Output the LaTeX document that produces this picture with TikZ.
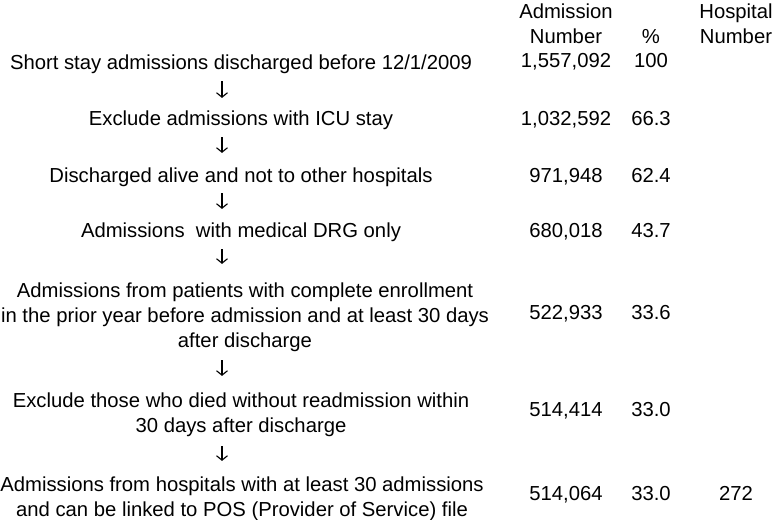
\documentclass[tikz,border=0pt]{standalone}
\usepackage{fontspec}
\setmainfont{Liberation Sans}
\usetikzlibrary{arrows.meta}
\newcommand\flowfont{\fontsize{20.27}{25}\selectfont}
\tikzset{
  flow/.style={-{Straight Barb[length=4.5pt,width=11pt]},line width=1.1pt,draw=black},
  stepbox/.style={inner sep=0pt,align=center,anchor=base,font=\flowfont},
  numbox/.style={inner sep=0pt,anchor=base,font=\flowfont},
  headbox/.style={inner sep=0pt,align=center,anchor=base,font=\flowfont}
}

\begin{document}
\begin{tikzpicture}[x=1pt,y=-1pt]
  \useasboundingbox (0,0) rectangle (780,520);
  % column heads (base = last line)
  \node[headbox] (headadm) at (566,43) {Admission\\Number};
  \node[headbox] (headpct) at (651,43) {\%};
  \node[headbox] (headhosp) at (736,43) {Hospital\\Number};
  % selection steps
  \node[stepbox] (short) at (241,69) {Short stay admissions discharged before 12/1/2009};
  \node[stepbox] (icu) at (241,125) {Exclude admissions with ICU stay};
  \node[stepbox] (alive) at (241,182) {Discharged alive and not to other hospitals};
  \node[stepbox] (drg) at (241,237) {Admissions\ \ with medical DRG only};
  \node[stepbox] (enrol) at (245,347) {Admissions from patients with complete enrollment\\in the prior year before admission and at least 30 days\\after discharge};
  \node[stepbox] (died) at (241,432) {Exclude those who died without readmission within\\30 days after discharge};
  \node[stepbox] (pos) at (242,516) {Admissions from hospitals with at least 30 admissions\\and can be linked to POS (Provider of Service) file};
  % counts
  \node[numbox] (nshort) at (566,67) {1,557,092};
  \node[numbox] (pshort) at (651,67) {100};
  \node[numbox] (nicu) at (566,125) {1,032,592};
  \node[numbox] (picu) at (651,125) {66.3};
  \node[numbox] (nalive) at (566,182) {971,948};
  \node[numbox] (palive) at (651,182) {62.4};
  \node[numbox] (ndrg) at (566,237) {680,018};
  \node[numbox] (pdrg) at (651,237) {43.7};
  \node[numbox] (nenrol) at (566,319) {522,933};
  \node[numbox] (penrol) at (651,319) {33.6};
  \node[numbox] (ndied) at (566,416) {514,414};
  \node[numbox] (pdied) at (651,416) {33.0};
  \node[numbox] (npos) at (566,500) {514,064};
  \node[numbox] (ppos) at (651,500) {33.0};
  \node[numbox] (hpos) at (736,500) {272};
  % arrows
  \coordinate (ax) at (222,0);
  \draw[flow,shorten <=7.7pt,shorten >=12.2pt] (short.south -| ax) -- (icu.north -| ax);
  \draw[flow,shorten <=7.7pt,shorten >=14.2pt] (icu.south -| ax) -- (alive.north -| ax);
  \draw[flow,shorten <=6.7pt,shorten >=13.2pt] (alive.south -| ax) -- (drg.north -| ax);
  \draw[flow,shorten <=7.7pt,shorten >=18.2pt] (drg.south -| ax) -- (enrol.north -| ax);
  \draw[flow,shorten <=8.7pt,shorten >=16.2pt] (enrol.south -| ax) -- (died.north -| ax);
  \draw[flow,shorten <=9.7pt,shorten >=15.2pt] (died.south -| ax) -- (pos.north -| ax);
\end{tikzpicture}
\end{document}
